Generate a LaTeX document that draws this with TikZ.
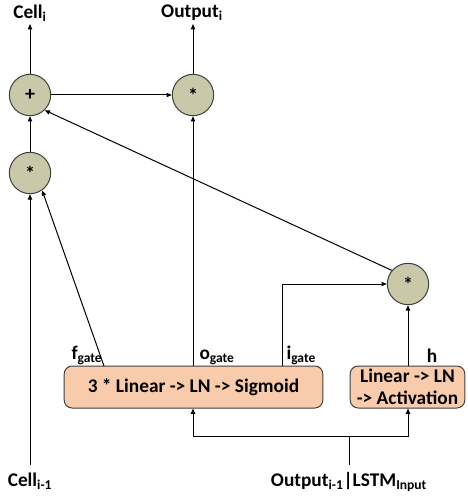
\documentclass[tikz,border=0pt]{standalone}
\usepackage{fontspec}
\setmainfont{Carlito}
\usetikzlibrary{arrows.meta}

\definecolor{mulfill}{RGB}{201,200,168}
\definecolor{boxfill}{RGB}{248,203,173}
\definecolor{edgegray}{RGB}{64,64,64}

\tikzset{every picture/.style={line width=0.75pt}}
\tikzset{
	op/.style={circle, draw=edgegray, fill=mulfill, minimum size=31pt, inner sep=0pt, font=\bfseries\fontsize{15}{16}\selectfont},
	layer/.style={rectangle, rounded corners=6pt, draw=edgegray, fill=boxfill, minimum height=31.5pt, inner sep=1pt, align=center, font=\bfseries\fontsize{14.5}{16.5}\selectfont},
	lbl/.style={inner sep=0.75pt, font=\bfseries\fontsize{14.5}{16}\selectfont},
	flow/.style={-{Triangle[length=4pt,width=3.2pt]}}
}

\begin{document}
\begin{tikzpicture}[x=0.75pt,y=0.75pt,yscale=-1,xscale=1]
	\useasboundingbox (0,0) rectangle (467,499);
	
	%Shape: Circle (cell update)
	\node [op] (plus) at (30,95) {+};
	\node [op] (outmul) at (193,95) {*};
	\node [op] (fmul) at (30,173) {*};
	\node [op] (imul) at (408,284) {*};
	
	%Shape: Rounded Rect (layers)
	\node [layer, minimum width=194pt] (gates) at (193.5,387) {3 * Linear -> LN -> Sigmoid};
	\node [layer, minimum width=86pt] (act) at (407.5,387) {Linear -> LN\\-> Activation};
	
	% Text Node
	\node [lbl] (cellout) at (30,13) {Cell\textsubscript{i}};
	% Text Node
	\node [lbl] (outlbl) at (192,13) {Output\textsubscript{i}};
	% Text Node
	\node [lbl] (cellin) at (30,481) {Cell\textsubscript{i-1}};
	% Text Node
	\node [lbl] (inlbl) at (349,482) {Output\textsubscript{i-1}|LSTM\textsubscript{Input}};
	% Text Node
	\node [lbl, anchor=south west] (flbl) at (70,366) {f\textsubscript{gate}};
	% Text Node
	\node [lbl, anchor=south west] (olbl) at (198,366) {o\textsubscript{gate}};
	% Text Node
	\node [lbl, anchor=south west] (ilbl) at (285,366) {i\textsubscript{gate}};
	% Text Node
	\node [lbl, anchor=south] (hlbl) at (432,364) {h};
	
	%Free ends
	\coordinate (celltop) at (30,24);
	\coordinate (outtop) at (193,24);
	\coordinate (cellbot) at (30,465);
	\coordinate (fsrc) at (104,366);
	\coordinate (isrc) at (282,366);
	\coordinate (inbot) at (349,465);
	\coordinate (split) at (349,436);
	
	%Straight Lines
	\draw [flow] (plus) -- (celltop);
	\draw [flow] (outmul) -- (outtop);
	\draw [flow] (plus) -- (outmul);
	\draw [flow] (fmul) -- (plus);
	\draw [flow] (cellbot) -- (fmul);
	\draw [flow] (fsrc) -- (fmul.-55);
	\draw [flow] (gates.north -| outmul) -- (outmul);
	\draw [flow] (isrc) |- (imul.west);
	\draw [flow] (act.north -| imul) -- (imul);
	\draw [flow] (imul.140) -- (plus.-46);
	
	%Input split
	\draw (inbot) -- (split);
	\draw [flow] (split) -| (gates.south -| outmul);
	\draw [flow] (split) -| (act.south -| imul);
	
\end{tikzpicture}
\end{document}
